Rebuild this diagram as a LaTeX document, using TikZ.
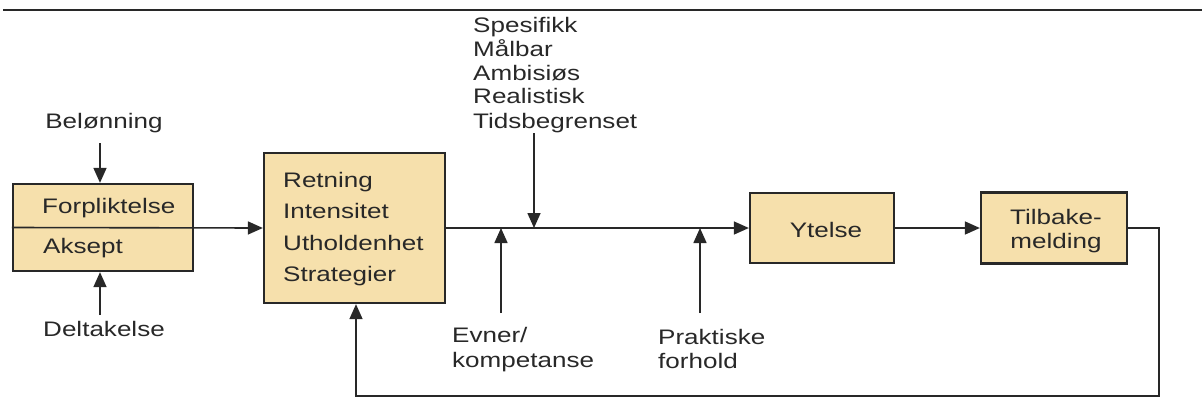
\documentclass[tikz,border=0pt]{standalone}
\usepackage{fontspec}
\newfontfamily\lab{Liberation Sans}[FakeStretch=1.24]
\usetikzlibrary{arrows.meta}
\definecolor{boxfill}{RGB}{246,224,172}
\definecolor{ink}{RGB}{40,40,40}
\begin{document}
\begin{tikzpicture}[x=1pt,y=-1pt,
  lbl/.style={font=\lab\fontsize{21}{24}\selectfont, text=ink, inner sep=0pt},
  box/.style={draw=ink, line width=2.3pt, fill=boxfill, inner sep=0pt},
  conn/.style={draw=ink, line width=1.6pt},
  arr/.style={conn, -{Triangle[length=15pt,width=13pt]}}]
\useasboundingbox (0,0) rectangle (1202,405);
% top rule
\coordinate (ruleL) at (3,10);
\coordinate (ruleR) at (1202,10);
\draw[conn] (ruleL) -- (ruleR);

% boxes
\node[box, minimum width=180pt, minimum height=87pt] (lbox) at (103,227.5) {};
\node[box, minimum width=181pt, minimum height=150pt] (mbox) at (354.5,228) {};
\node[box, minimum width=144pt, minimum height=70pt] (ybox) at (822,228) {};
\node[box, minimum width=146pt, minimum height=71pt] (tbox) at (1054,228) {};

% texts
\node[lbl, anchor=base] (bel) at (104,128) {Belønning};
\node[lbl, anchor=base] (del) at (104,336) {Deltakelse};
\node[lbl, anchor=base west] (forp) at (42,213) {Forpliktelse};
\node[lbl, anchor=base west] (aks) at (43,253) {Aksept};
\node[lbl, anchor=base west] (ret) at (283,187) {Retning};
\node[lbl, anchor=base west] (int) at (283,218) {Intensitet};
\node[lbl, anchor=base west] (uth) at (283,250) {Utholdenhet};
\node[lbl, anchor=base west] (str) at (283,281) {Strategier};
\node[lbl, anchor=base west] (spe) at (473,32) {Spesifikk};
\node[lbl, anchor=base west] (mal) at (473,56) {Målbar};
\node[lbl, anchor=base west] (amb) at (473,80) {Ambisiøs};
\node[lbl, anchor=base west] (rea) at (473,103) {Realistisk};
\node[lbl, anchor=base west] (tid) at (473,128) {Tidsbegrenset};
\node[lbl, anchor=base west] (evn) at (452,342) {Evner/};
\node[lbl, anchor=base west] (kom) at (452,367) {kompetanse};
\node[lbl, anchor=base west] (pra) at (658,344) {Praktiske};
\node[lbl, anchor=base west] (for) at (658,368) {forhold};
\node[lbl, anchor=base] (yt) at (826,237) {Ytelse};
\node[lbl, anchor=base] (tb1) at (1056,224) {Tilbake-};
\node[lbl, anchor=base] (tb2) at (1056,248) {melding};

% divider of left box, continuing as arrow
\draw[arr] (lbox.west) -- (mbox.west);

% vertical inputs to left box
\coordinate (belA) at (100,143);
\coordinate (delA) at (100,315);
\draw[arr] (belA) -- (belA |- lbox.north);
\draw[arr] (delA) -- (delA |- lbox.south);

% main line
\draw[arr] (mbox.east) -- (ybox.west);
\draw[arr] (ybox.east) -- (tbox.west);

% inputs on the main line
\coordinate (speA) at (534,133);
\coordinate (speB) at (534,228);
\coordinate (evnA) at (501,313);
\coordinate (evnB) at (501,228);
\coordinate (praA) at (700,313);
\coordinate (praB) at (700,228);
\draw[arr] (speA) -- (speB);
\draw[arr] (evnA) -- (evnB);
\draw[arr] (praA) -- (praB);

% feedback loop
\coordinate (fbR) at (1159,396);
\coordinate (fbL) at (356,396);
\draw[arr] (tbox.east) -| (fbR) -- (fbL) -- (fbL |- mbox.south);
\end{tikzpicture}
\end{document}
